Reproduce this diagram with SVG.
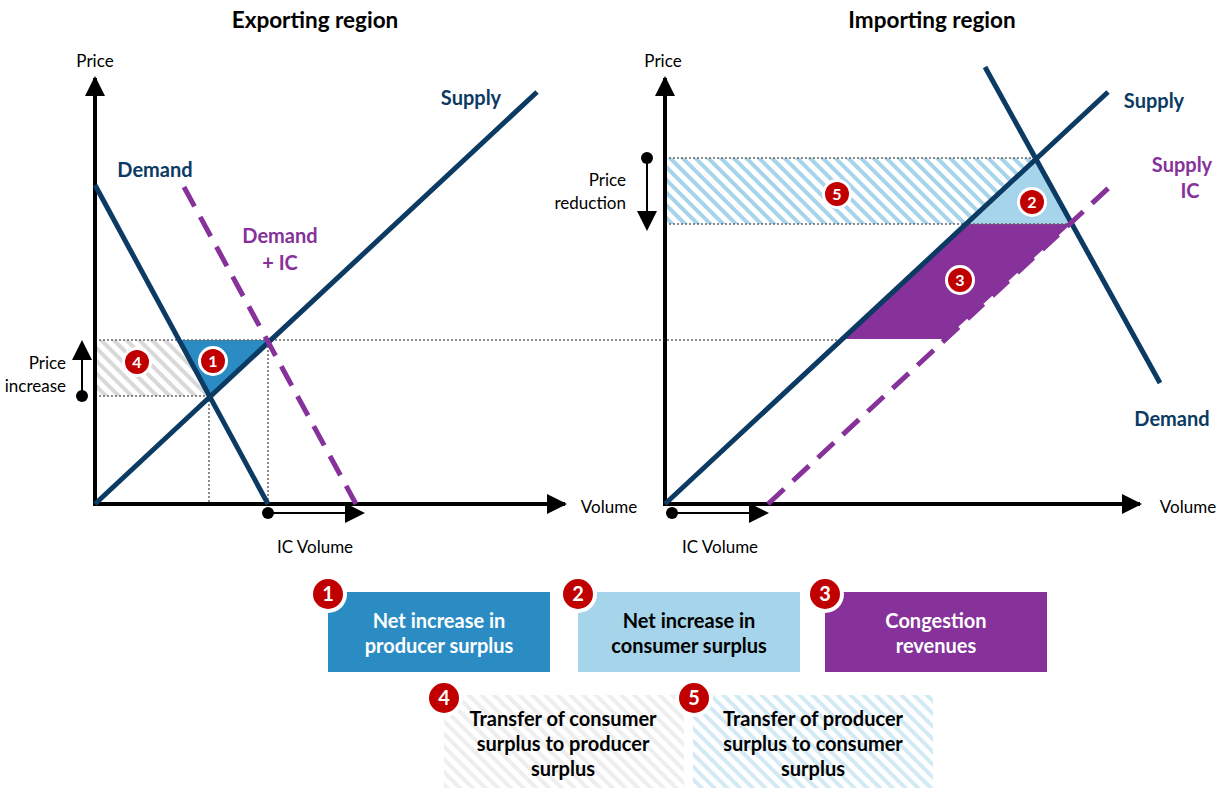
<svg xmlns="http://www.w3.org/2000/svg" width="1217" height="788" viewBox="0 0 1217 788">
<defs>
<style>
text{font-family:Lato,"Open Sans","Liberation Sans",sans-serif}
.title{font-size:22.5px;font-weight:bold;fill:#000;text-anchor:middle}
.ax{font-size:17px;fill:#000;text-anchor:middle}
.axr{font-size:17px;fill:#000;text-anchor:end}
.navy{font-size:20px;font-weight:bold;fill:#0b3a63;text-anchor:middle}
.purp{font-size:20px;font-weight:bold;fill:#86329a;text-anchor:middle}
.axis{stroke:#000;stroke-width:4;fill:none}
.thin{stroke:#000;stroke-width:2;fill:none}
.curve{stroke:#0b3a63;stroke-width:5;fill:none}
.dash{stroke:#86329a;stroke-width:5;fill:none;stroke-dasharray:22 12}
.dot{stroke:#666;stroke-width:1.5;stroke-dasharray:2 2;fill:none}
.bring{fill:#fff}
.badge{fill:#c00000}
.bnum{font-size:16px;font-weight:bold;fill:#fff;text-anchor:middle}
.lnum{font-size:20px;font-weight:bold;fill:#fff;text-anchor:middle}
.lw{font-size:20px;font-weight:bold;fill:#fff;text-anchor:middle}
.lb{font-size:20px;font-weight:bold;fill:#000;text-anchor:middle}
</style>
<pattern id="hGrey" width="9" height="9" patternUnits="userSpaceOnUse" patternTransform="rotate(-45)">
<rect width="9" height="9" fill="#fff"/><rect width="4" height="9" fill="#d9d9d9"/>
</pattern>
<pattern id="hBlue" width="9" height="9" patternUnits="userSpaceOnUse" patternTransform="rotate(-45)">
<rect width="9" height="9" fill="#fff"/><rect width="4" height="9" fill="#a6d4ea"/>
</pattern>
<pattern id="hGreyL" width="9" height="9" patternUnits="userSpaceOnUse" patternTransform="rotate(-45)">
<rect width="9" height="9" fill="#fff"/><rect width="4" height="9" fill="#eeeeee"/>
</pattern>
<pattern id="hBlueL" width="9" height="9" patternUnits="userSpaceOnUse" patternTransform="rotate(-45)">
<rect width="9" height="9" fill="#fff"/><rect width="4" height="9" fill="#d3eaf5"/>
</pattern>
<marker id="ah" viewBox="0 0 10 10" refX="9" refY="5" markerWidth="5" markerHeight="5" orient="auto" markerUnits="strokeWidth"><path d="M0,0 L10,5 L0,10 z" fill="#000"/></marker>
<marker id="ahs" viewBox="0 0 10 10" refX="9" refY="5" markerWidth="10" markerHeight="10" orient="auto" markerUnits="strokeWidth"><path d="M0,0 L10,5 L0,10 z" fill="#000"/></marker>
</defs>
<rect width="1217" height="788" fill="#fff"/>

<text class="title" x="315" y="28">Exporting region</text>
<text class="title" x="932" y="28">Importing region</text>

<g id="area4"><polygon points="97,340 179,340 209,396 97,396" fill="url(#hGrey)"/></g>
<g id="area1"><polygon points="179,340 271,340 209,396" fill="#2b8cc4"/></g>
<g id="area5"><polygon points="667,158 1036,158 965,224 667,224" fill="url(#hBlue)"/></g>
<g id="area2"><polygon points="1036,158 1071,224 965,224" fill="#a6d4ea"/></g>
<g id="area3"><polygon points="965,224 1071,224 945,339 842,339" fill="#86329a"/></g>

<g id="connectors">
<line class="dot" x1="95" y1="340" x2="842" y2="340"/>
<line class="dot" x1="95" y1="396" x2="209" y2="396"/>
<line class="dot" x1="209" y1="396" x2="209" y2="504"/>
<line class="dot" x1="268" y1="342" x2="268" y2="504"/>
<line class="dot" x1="665" y1="158" x2="1036" y2="158"/>
<line class="dot" x1="665" y1="224" x2="1071" y2="224"/>
<line class="axis" x1="95" y1="506" x2="95" y2="78" marker-end="url(#ah)"/>
<line class="axis" x1="93" y1="504" x2="565" y2="504" marker-end="url(#ah)"/>
<line class="axis" x1="665" y1="506" x2="665" y2="78" marker-end="url(#ah)"/>
<line class="axis" x1="663" y1="504" x2="1140" y2="504" marker-end="url(#ah)"/>
<line class="curve" x1="95" y1="504" x2="537" y2="92"/>
<line class="curve" x1="95" y1="185" x2="268" y2="504"/>
<line class="dash" x1="184" y1="187" x2="356" y2="504"/>
<line class="curve" x1="665" y1="504" x2="1108" y2="92"/>
<line class="curve" x1="985" y1="67" x2="1160" y2="383"/>
<line class="dash" x1="768" y1="504" x2="1115" y2="182"/>
<circle cx="82" cy="396" r="6" fill="#000"/>
<line class="thin" x1="82" y1="396" x2="82" y2="342" marker-end="url(#ahs)"/>
<circle cx="268" cy="513" r="6" fill="#000"/>
<line class="thin" x1="268" y1="513" x2="363" y2="513" marker-end="url(#ahs)"/>
<circle cx="647" cy="158" r="6" fill="#000"/>
<line class="thin" x1="647" y1="158" x2="647" y2="229" marker-end="url(#ahs)"/>
<circle cx="672" cy="513" r="6" fill="#000"/>
<line class="thin" x1="672" y1="513" x2="767" y2="513" marker-end="url(#ahs)"/>
</g>

<g id="labels">
<text class="ax" x="95" y="67">Price</text>
<text class="ax" x="609" y="513">Volume</text>
<text class="ax" x="315" y="553">IC Volume</text>
<text class="axr" x="66" y="369">Price</text>
<text class="axr" x="66" y="392">increase</text>
<text class="ax" x="663" y="67">Price</text>
<text class="ax" x="1188" y="513">Volume</text>
<text class="ax" x="720" y="553">IC Volume</text>
<text class="axr" x="626" y="186">Price</text>
<text class="axr" x="626" y="209">reduction</text>
<text class="navy" x="471" y="105">Supply</text>
<text class="navy" x="155" y="177">Demand</text>
<text class="purp" x="280" y="243">Demand</text>
<text class="purp" x="280" y="270">+ IC</text>
<text class="navy" x="1154" y="108">Supply</text>
<text class="purp" x="1182" y="172">Supply</text>
<text class="purp" x="1190" y="198">IC</text>
<text class="navy" x="1172" y="426">Demand</text>
</g>

<g id="badge1"><circle class="bring" cx="213" cy="361" r="15"/><circle class="badge" cx="213" cy="361" r="12"/><text class="bnum" x="213" y="367">1</text></g>
<g id="badge4"><circle class="bring" cx="137" cy="362" r="15"/><circle class="badge" cx="137" cy="362" r="12"/><text class="bnum" x="137" y="368">4</text></g>
<g id="badge5"><circle class="bring" cx="837" cy="194" r="15"/><circle class="badge" cx="837" cy="194" r="12"/><text class="bnum" x="837" y="200">5</text></g>
<g id="badge2"><circle class="bring" cx="1032" cy="202" r="15"/><circle class="badge" cx="1032" cy="202" r="12"/><text class="bnum" x="1032" y="208">2</text></g>
<g id="badge3"><circle class="bring" cx="960" cy="280" r="15"/><circle class="badge" cx="960" cy="280" r="12"/><text class="bnum" x="960" y="286">3</text></g>

<g id="legend1">
<rect x="328" y="592" width="222" height="80" fill="#2b8cc4"/>
<text class="lw" x="439" y="628">Net increase in</text>
<text class="lw" x="439" y="653">producer surplus</text>
<circle class="bring" cx="328" cy="594" r="19"/><circle class="badge" cx="328" cy="594" r="15"/><text class="lnum" x="328" y="601">1</text>
</g>
<g id="legend2">
<rect x="578" y="592" width="222" height="80" fill="#a6d4ea"/>
<text class="lb" x="689" y="628">Net increase in</text>
<text class="lb" x="689" y="653">consumer surplus</text>
<circle class="bring" cx="578" cy="594" r="19"/><circle class="badge" cx="578" cy="594" r="15"/><text class="lnum" x="578" y="601">2</text>
</g>
<g id="legend3">
<rect x="825" y="592" width="222" height="80" fill="#86329a"/>
<text class="lw" x="936" y="628">Congestion</text>
<text class="lw" x="936" y="653">revenues</text>
<circle class="bring" cx="825" cy="594" r="19"/><circle class="badge" cx="825" cy="594" r="15"/><text class="lnum" x="825" y="601">3</text>
</g>
<g id="legend4">
<rect x="444" y="695" width="240" height="93" fill="url(#hGreyL)"/>
<text class="lb" x="563" y="726">Transfer of consumer</text>
<text class="lb" x="563" y="751">surplus to producer</text>
<text class="lb" x="563" y="776">surplus</text>
<circle class="bring" cx="444" cy="698" r="19"/><circle class="badge" cx="444" cy="698" r="15"/><text class="lnum" x="444" y="705">4</text>
</g>
<g id="legend5">
<rect x="693" y="695" width="240" height="93" fill="url(#hBlueL)"/>
<text class="lb" x="813" y="726">Transfer of producer</text>
<text class="lb" x="813" y="751">surplus to consumer</text>
<text class="lb" x="813" y="776">surplus</text>
<circle class="bring" cx="694" cy="698" r="19"/><circle class="badge" cx="694" cy="698" r="15"/><text class="lnum" x="694" y="705">5</text>
</g>
</svg>
